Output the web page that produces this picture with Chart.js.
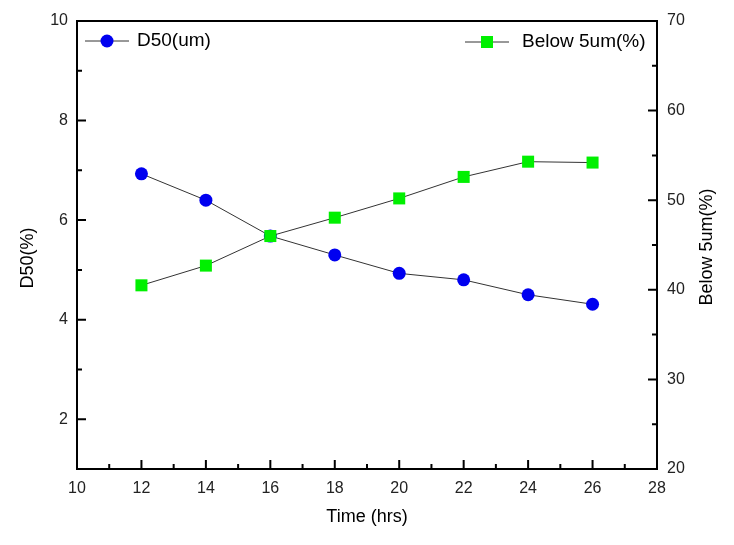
<!DOCTYPE html>
<html>
<head>
<meta charset="utf-8">
<script src="https://cdn.jsdelivr.net/npm/chart.js@4/dist/chart.umd.min.js"></script>
<style>
  body { margin: 0; background: #fff; }
  #wrap { width: 734px; height: 545px; }
</style>
</head>
<body>
<div id="wrap"><canvas id="chart"></canvas></div>
<script>
// data
const hours = [12, 14, 16, 18, 20, 22, 24, 26];
const d50 = [6.93, 6.40, 5.68, 5.30, 4.93, 4.80, 4.50, 4.31];
const below5 = [40.5, 42.7, 46.0, 48.05, 50.2, 52.6, 54.3, 54.2];

const xTicks = [10, 12, 14, 16, 18, 20, 22, 24, 26, 28];
const xMinor = [11, 13, 15, 17, 19, 21, 23, 25, 27];
const leftTicks = [2, 4, 6, 8, 10];
const leftMinor = [3, 5, 7, 9];
const rightTicks = [20, 30, 40, 50, 60, 70];
const rightMinor = [25, 35, 45, 55, 65];

const FONT = "'Liberation Sans', Arial, sans-serif";

// frame, inward ticks, axis titles and the two legends
const framePlugin = {
  id: "frame",
  afterDraw(chart) {
    const ctx = chart.ctx;
    const a = chart.chartArea;
    const sx = chart.scales.x, sy = chart.scales.y, sy1 = chart.scales.y1;
    ctx.save();
    ctx.strokeStyle = "#000";
    ctx.lineWidth = 2;
    ctx.strokeRect(a.left, a.top, a.right - a.left, a.bottom - a.top);

    ctx.beginPath();
    const tick = (x1, y1, x2, y2) => { ctx.moveTo(x1, y1); ctx.lineTo(x2, y2); };
    xTicks.forEach(v => { const p = sx.getPixelForValue(v); tick(p, a.bottom, p, a.bottom - 9); });
    xMinor.forEach(v => { const p = sx.getPixelForValue(v); tick(p, a.bottom, p, a.bottom - 5); });
    leftTicks.forEach(v => { const p = sy.getPixelForValue(v); tick(a.left, p, a.left + 9, p); });
    leftMinor.forEach(v => { const p = sy.getPixelForValue(v); tick(a.left, p, a.left + 5, p); });
    rightTicks.forEach(v => { const p = sy1.getPixelForValue(v); tick(a.right, p, a.right - 9, p); });
    rightMinor.forEach(v => { const p = sy1.getPixelForValue(v); tick(a.right, p, a.right - 5, p); });
    ctx.stroke();

    // axis titles
    ctx.fillStyle = "#000";
    ctx.font = "18px " + FONT;
    ctx.textAlign = "center";
    ctx.textBaseline = "middle";
    ctx.fillText("Time (hrs)", (a.left + a.right) / 2, 517);
    ctx.save();
    ctx.translate(28, 258);
    ctx.rotate(-Math.PI / 2);
    ctx.fillText("D50(%)", 0, 0);
    ctx.restore();
    ctx.save();
    ctx.translate(707, 247);
    ctx.rotate(-Math.PI / 2);
    ctx.fillText("Below 5um(%)", 0, 0);
    ctx.restore();

    // legends
    const ds = chart.data.datasets;
    const legend = (d, x0, y, textX) => {
      ctx.strokeStyle = "#333";
      ctx.lineWidth = 1;
      ctx.beginPath();
      ctx.moveTo(x0, y); ctx.lineTo(x0 + 44, y);
      ctx.stroke();
      ctx.fillStyle = d.pointBackgroundColor;
      ctx.strokeStyle = d.pointBackgroundColor;
      Chart.helpers.drawPoint(ctx, { pointStyle: d.pointStyle, radius: d.pointRadius, borderWidth: 0 }, x0 + 22, y);
      ctx.fillStyle = "#000";
      ctx.font = "19px " + FONT;
      ctx.textAlign = "left";
      ctx.textBaseline = "middle";
      ctx.fillText(d.label, textX, y);
    };
    legend(ds[0], 85, 41, 137);
    legend(ds[1], 465, 42, 522);
    ctx.restore();
  }
};

new Chart(document.getElementById("chart"), {
  type: "line",
  data: {
    datasets: [
      {
        label: "D50(um)",
        data: hours.map((h, i) => ({ x: h, y: d50[i] })),
        yAxisID: "y",
        borderColor: "#333",
        borderWidth: 1,
        pointStyle: "circle",
        pointRadius: 6.5,
        pointBackgroundColor: "#0000f0",
        pointBorderWidth: 0,
        order: 1,
      },
      {
        label: "Below 5um(%)",
        data: hours.map((h, i) => ({ x: h, y: below5[i] })),
        yAxisID: "y1",
        borderColor: "#333",
        borderWidth: 1,
        pointStyle: "rect",
        pointRadius: 8.5,
        pointBackgroundColor: "#00f000",
        pointBorderWidth: 0,
        order: 0,
      },
    ],
  },
  options: {
    responsive: true,
    maintainAspectRatio: false,
    animation: false,
    layout: { padding: { top: 21, left: 0, right: 0, bottom: 0 } },
    plugins: { legend: { display: false }, tooltip: { enabled: false } },
    scales: {
      x: {
        type: "linear",
        min: 10,
        max: 28,
        grid: { display: false, drawTicks: false },
        border: { display: false },
        afterBuildTicks: (s) => { s.ticks = xTicks.map(v => ({ value: v })); },
        afterFit: (s) => { s.height = 76; },
        ticks: { padding: 10, color: "#222", font: { family: FONT, size: 16 }, maxRotation: 0, autoSkip: false },
      },
      y: {
        position: "left",
        min: 1,
        max: 10,
        grid: { display: false, drawTicks: false },
        border: { display: false },
        afterBuildTicks: (s) => { s.ticks = leftTicks.map(v => ({ value: v })); },
        afterFit: (s) => { s.width = 77; },
        ticks: { padding: 9, color: "#222", font: { family: FONT, size: 16 } },
      },
      y1: {
        position: "right",
        min: 20,
        max: 70,
        grid: { display: false, drawTicks: false },
        border: { display: false },
        afterBuildTicks: (s) => { s.ticks = rightTicks.map(v => ({ value: v })); },
        afterFit: (s) => { s.width = 77; },
        ticks: { padding: 10, color: "#222", font: { family: FONT, size: 16 } },
      },
    },
  },
  plugins: [framePlugin],
});
</script>
</body>
</html>
